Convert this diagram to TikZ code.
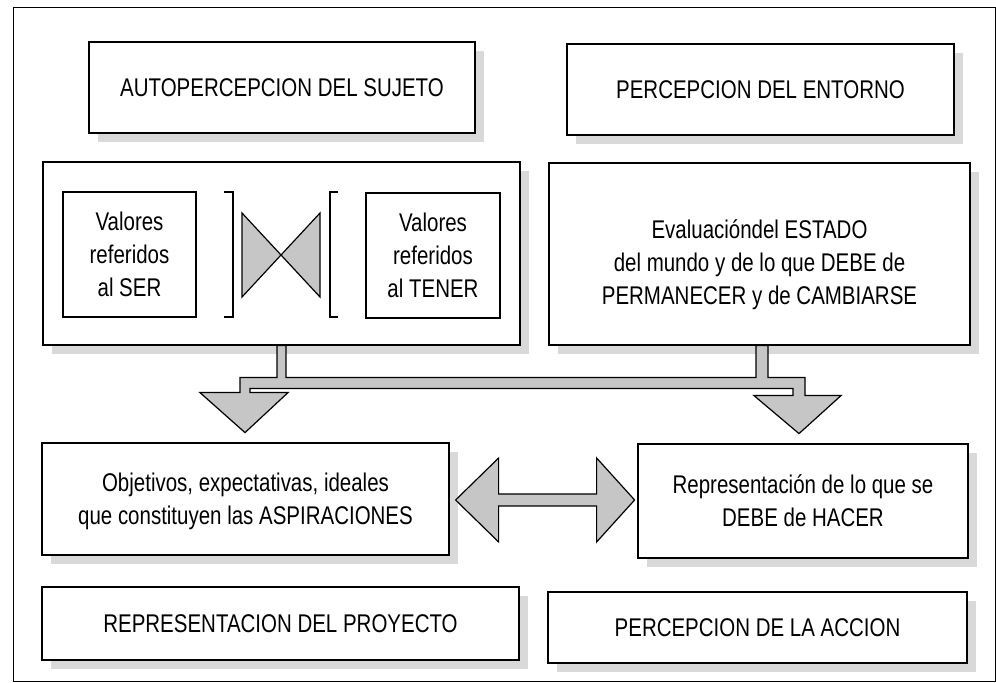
\documentclass[tikz,border=0pt]{standalone}
\usepackage{fontspec}
\setmainfont[FakeStretch=0.8]{Liberation Sans}
\usetikzlibrary{positioning}
\usetikzlibrary{calc}
\usetikzlibrary{shadows}

\begin{document}
\begin{tikzpicture}[x=0.5pt,y=-0.5pt,semithick,
                    font=\fontsize{12.8}{16.5}\selectfont]
\tikzstyle{caja}=[draw,fill=white,inner sep=0pt,align=center,
                  drop shadow={shadow xshift=4.5pt,shadow yshift=-4.5pt,fill=gray!30,opacity=1}]
\tikzstyle{cajita}=[draw,fill=white,inner sep=0pt,align=center]
\tikzstyle{bloque}=[draw,fill=gray!45,line join=miter]
\tikzstyle{corchete}=[draw,line width=1.4pt]

\useasboundingbox (0,0) rectangle (996,683);
\draw[line width=0.5pt] (13,8) rectangle (995,681);

\node[caja,minimum width=193pt,minimum height=45.5pt]     (auto)       at (282,87.5)    {AUTOPERCEPCION DEL SUJETO};
\node[caja,minimum width=193.5pt,minimum height=45.5pt]   (entorno)    at (760.5,89.5)  {PERCEPCION DEL ENTORNO};
\node[caja,minimum width=238.5pt,minimum height=91.5pt]   (valores)    at (281.5,253.5) {};
\node[cajita,minimum width=66.5pt,minimum height=62.5pt]  (ser)        at (129.5,254.5) {Valores\\referidos\\al SER};
\node[cajita,minimum width=67pt,minimum height=62.5pt]    (tener)      at (433,255.5)   {Valores\\referidos\\al TENER};
\node[caja,minimum width=210.5pt,minimum height=91pt]     (evaluacion) at (759.5,254)   {\rule{0pt}{20pt}Evaluacióndel ESTADO\\del mundo y de lo que DEBE de\\PERMANECER y de CAMBIARSE};
\node[caja,minimum width=203.5pt,minimum height=56pt]     (objetivos)  at (245.5,499)   {\rule{0pt}{12pt}Objetivos, expectativas, ideales\\que constituyen las ASPIRACIONES};
\node[caja,minimum width=165pt,minimum height=57pt]       (hacer)      at (803,501)     {Representación de lo que se\\DEBE de HACER};
\node[caja,minimum width=238.5pt,minimum height=36.5pt]   (proyecto)   at (280.5,623.5) {REPRESENTACION DEL PROYECTO};
\node[caja,minimum width=209.5pt,minimum height=35.5pt]   (accion)     at (757.5,627.5) {PERCEPCION DE LA ACCION};

% corchetes y lazo entre SER y TENER
\draw[corchete] (224,192) -- (233,192) -- (233,317) -- (224,317);
\draw[corchete] (338,192) -- (330,192) -- (330,317) -- (338,317);
\draw[bloque] (242,213) -- (320,297) -- (320,213) -- (242,297) -- cycle;

% flecha doble hacia abajo
\draw[bloque] ($(valores.south)+(-4.5,0)$) -- ++(0,32) -- ++(-37,0) -- ++(0,15)
      -- ++(-40,0) -- ++(45,40) -- ++(43,-40) -- ++(-38,0) -- ++(0,-4)
      -- ++(543,0) -- ++(0,7) -- ++(-39,0) -- ++(45,38) -- ++(42,-38)
      -- ++(-36,0) -- ++(0,-18) -- ++(-37,0) -- ++(0,-32) -- ++(-12,0)
      -- ++(0,32) -- ++(-470,0) -- ++(0,-32) -- cycle;

% flecha entre aspiraciones y hacer
\draw[bloque] ($(objetivos.east)+(6,1)$) -- ++(43,-42) -- ++(0,36) -- ++(98,0)
      -- ++(0,-36) -- ++(38,42) -- ++(-38,42) -- ++(0,-36) -- ++(-98,0)
      -- ++(0,36) -- cycle;
\end{tikzpicture}
\end{document}
